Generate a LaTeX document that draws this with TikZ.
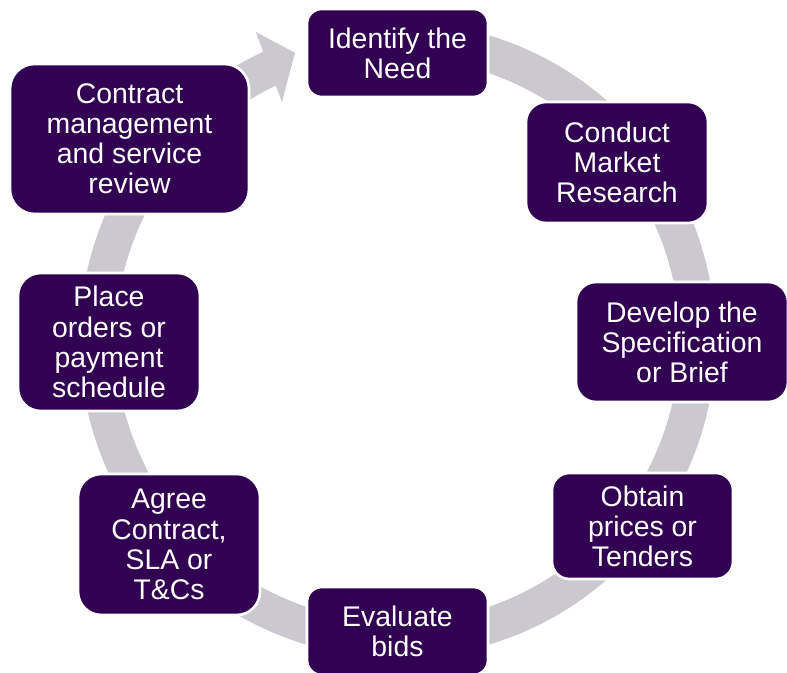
\documentclass[tikz,border=0pt]{standalone}
\usepackage{fontspec}
\setmainfont{Liberation Sans}
\usetikzlibrary{calc}
\definecolor{boxpurple}{RGB}{50,0,82}
\definecolor{ringgray}{RGB}{203,201,207}
\begin{document}
\begin{tikzpicture}[x=0.75pt,y=0.75pt,
  stage/.style={rectangle, fill=boxpurple, draw=white, line width=2pt,
    text=white, align=center, inner sep=0pt,
    font=\fontsize{21.3}{22.6}\selectfont},
]
\useasboundingbox (0,0) rectangle (787,673);
\coordinate (c) at (397.5,333);

% circular arrow behind the stages
\fill[ringgray] ($(c)+(100:238.5pt)$)
  arc[start angle=100, end angle=-245.5, radius=238.5pt]
  -- ($(c)+(-245.5:211.5pt)$)
  arc[start angle=-245.5, end angle=100, radius=211.5pt] -- cycle;
\fill[ringgray] ($(c)+(114.7:254.25pt)$) -- ($(c)+(109.65:228.75pt)$)
  -- ($(c)+(115.9:198.4pt)$) -- cycle;

% stages
\node[stage, minimum width=135.75pt, minimum height=66pt, rounded corners=11pt]
  (identify) at (397.5,620) {Identify the\\Need};
\node[stage, minimum width=136.5pt, minimum height=90.75pt, rounded corners=15pt]
  (research) at (617,510.5) {Conduct\\Market\\Research};
\node[stage, minimum width=159pt, minimum height=90pt, rounded corners=15pt]
  (spec) at (682,331) {Develop the\\Specification\\or Brief};
\node[stage, minimum width=135.75pt, minimum height=79.5pt, rounded corners=13pt]
  (tenders) at (642.5,147) {Obtain\\prices or\\Tenders};
\node[stage, minimum width=135.75pt, minimum height=66pt, rounded corners=11pt]
  (evaluate) at (397.5,42) {Evaluate\\bids};
\node[stage, minimum width=136.5pt, minimum height=105.75pt, rounded corners=17.5pt]
  (agree) at (169,128.5) {Agree\\Contract,\\SLA or\\T\&Cs};
\node[stage, minimum width=136.5pt, minimum height=103.5pt, rounded corners=17pt]
  (orders) at (109,331) {Place\\orders or\\payment\\schedule};
\node[stage, minimum width=179.25pt, minimum height=112.5pt, rounded corners=18.5pt]
  (review) at (129.5,534) {Contract\\management\\and service\\review};
\end{tikzpicture}
\end{document}
